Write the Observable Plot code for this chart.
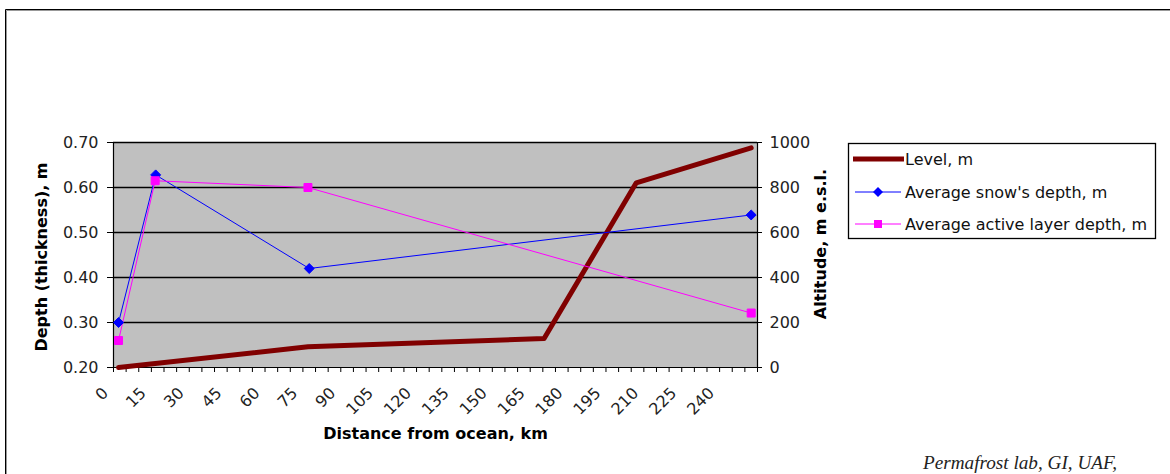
<!DOCTYPE html>
<html>
<head>
<meta charset="utf-8">
<script src="https://cdn.jsdelivr.net/npm/d3@7"></script>
<script src="https://cdn.jsdelivr.net/npm/@observablehq/plot@0.6"></script>
<style>
  html, body { margin: 0; padding: 0; background: #fff; }
  #chart { position: relative; width: 1170px; height: 474px; overflow: hidden; }
  #chart svg { position: absolute; left: 0; top: 0; }
</style>
</head>
<body>
<div id="chart"></div>
<script>
// Axis ticks
const depthTicks = [0.2, 0.3, 0.4, 0.5, 0.6, 0.7];
const altitudeTicks = [0, 200, 400, 600, 800, 1000];
const distanceLabels = [0, 15, 30, 45, 60, 75, 90, 105, 120, 135, 150, 165, 180, 195, 210, 225, 240];
const distanceMinorTicks = d3.range(0, 256, 5);

// Ground level along the transect (altitude, m)
const levelKm = [2, 77, 170.5, 207, 252.5];
const levelAltitude = [0, 92, 129, 821, 976];

// Average snow depth (m)
const snowKm = [2, 16.7, 77.5, 252.5];
const snowDepth = [0.30, 0.628, 0.42, 0.539];

// Average active layer depth (m)
const activeKm = [2, 16.5, 77, 252.5];
const activeDepth = [0.26, 0.615, 0.60, 0.321];

const seriesNames = ["Level, m", "Average snow's depth, m", "Average active layer depth, m"];

// Left axis is depth 0.2–0.7 m, right axis is altitude 0–1000 m; altitude is mapped onto the depth scale
const DEPTH_MIN = 0.2, DEPTH_MAX = 0.7, ALT_MAX = 1000;
const altToDepth = a => DEPTH_MIN + (a / ALT_MAX) * (DEPTH_MAX - DEPTH_MIN);
const depthToAlt = d => (d - DEPTH_MIN) / (DEPTH_MAX - DEPTH_MIN) * ALT_MAX;

const level = levelKm.map((x, i) => ({x, y: altToDepth(levelAltitude[i])}));
const snow = snowKm.map((x, i) => ({x, y: snowDepth[i]}));
const active = activeKm.map((x, i) => ({x, y: activeDepth[i]}));

const W = 1170, H = 474;
const font = "'DejaVu Sans', Verdana, sans-serif";

const chart = Plot.plot({
  width: W,
  height: H,
  marginLeft: 113,
  marginRight: 413,
  marginTop: 142,
  marginBottom: 107,
  style: {fontFamily: font, fontSize: "16px", color: "#000", background: "transparent", overflow: "visible"},
  x: {domain: [0, 255]},
  y: {domain: [DEPTH_MIN, DEPTH_MAX]},
  marks: [
    Plot.frame({fill: "#c0c0c0", stroke: null}),
    Plot.ruleY(depthTicks.slice(1), {stroke: "#000", strokeWidth: 1.3}),
    Plot.ruleX([0, 255], {stroke: "#000", strokeWidth: 1.2}),
    Plot.ruleY([DEPTH_MIN], {stroke: "#000", strokeWidth: 1.2}),
    Plot.axisY({anchor: "left", ticks: depthTicks, tickFormat: d3.format(".2f"), tickSize: 6, tickPadding: 9, label: null, fill: "#222"}),
    Plot.axisY({anchor: "right", ticks: altitudeTicks.map(altToDepth), tickFormat: d => String(Math.round(depthToAlt(d))), tickSize: 4, tickPadding: 8, label: null, fill: "#222"}),
    Plot.axisX({ticks: distanceMinorTicks, tickFormat: () => "", tickSize: 5, label: null}),
    Plot.text(distanceLabels, {x: d => d, text: d => String(d), frameAnchor: "bottom", rotate: -45, textAnchor: "end", lineAnchor: "middle", dx: -8, dy: 23, fill: "#222"}),
    // series
    Plot.line(level, {x: "x", y: "y", stroke: "#800000", strokeWidth: 5}),
    Plot.line(snow, {x: "x", y: "y", stroke: "#0000ff", strokeWidth: 1}),
    Plot.line(active, {x: "x", y: "y", stroke: "#ff00ff", strokeWidth: 1}),
    Plot.dot(snow, {x: "x", y: "y", symbol: "diamond2", r: 4.5, fill: "#0000ff", stroke: "#0000ff", strokeWidth: 1}),
    Plot.dot(active, {x: "x", y: "y", symbol: "square", r: 4.5, fill: "#ff00ff", stroke: "#ff00ff", strokeWidth: 1}),
    // axis titles
    Plot.text(["Depth (thickness), m"], {frameAnchor: "left", textAnchor: "middle", lineAnchor: "middle", dx: -72, dy: 2, rotate: -90, fontWeight: "bold", fontSize: 16, fill: "#000"}),
    Plot.text(["Altitude, m e.s.l."], {frameAnchor: "right", textAnchor: "middle", lineAnchor: "middle", dx: 63, dy: -11, rotate: -90, fontWeight: "bold", fontSize: 16, fill: "#000"}),
    Plot.text(["Distance from ocean, km"], {frameAnchor: "bottom", textAnchor: "middle", lineAnchor: "middle", dy: 66, fontWeight: "bold", fontSize: 16, fill: "#000"})
  ]
});
document.getElementById("chart").appendChild(chart);

// Outer border, legend and credit line
const over = d3.select("#chart").append("svg")
  .attr("width", W).attr("height", H)
  .style("pointer-events", "none")
  .style("font-family", font);

over.append("path").attr("d", `M5.5,${H} V9.5 H${W}`).attr("fill", "none").attr("stroke", "#000");
over.append("path").attr("d", `M6.5,${H} V10.5 H${W}`).attr("fill", "none").attr("stroke", "#999");

const lg = over.append("g").attr("transform", "translate(848,143)");
lg.append("rect").attr("x", 0.5).attr("y", 0.5).attr("width", 307).attr("height", 95)
  .attr("fill", "#fff").attr("stroke", "#000").attr("stroke-width", 1.3);
const rows = [16, 49, 81];
// Level
lg.append("line").attr("x1", 5).attr("x2", 56).attr("y1", rows[0]).attr("y2", rows[0]).attr("stroke", "#800000").attr("stroke-width", 5);
// Snow
lg.append("line").attr("x1", 7).attr("x2", 53).attr("y1", rows[1]).attr("y2", rows[1]).attr("stroke", "#0000ff");
lg.append("path").attr("d", d3.symbol(d3.symbolDiamond2, Math.PI * 4.5 * 4.5)()).attr("transform", `translate(30,${rows[1]})`).attr("fill", "#0000ff");
// Active layer
lg.append("line").attr("x1", 7).attr("x2", 53).attr("y1", rows[2]).attr("y2", rows[2]).attr("stroke", "#ff00ff");
lg.append("path").attr("d", d3.symbol(d3.symbolSquare, Math.PI * 4.5 * 4.5)()).attr("transform", `translate(30,${rows[2]})`).attr("fill", "#ff00ff");
seriesNames.forEach((name, i) => {
  lg.append("text").attr("x", 57).attr("y", rows[i]).attr("dy", "0.35em")
    .attr("font-size", 16).attr("fill", "#111").text(name);
});

over.append("text").attr("x", 923).attr("y", 469)
  .attr("font-family", "'Liberation Serif', 'Times New Roman', serif")
  .attr("font-style", "italic").attr("font-size", 19.2).attr("fill", "#222")
  .text("Permafrost lab, GI, UAF,");
</script>
</body>
</html>
